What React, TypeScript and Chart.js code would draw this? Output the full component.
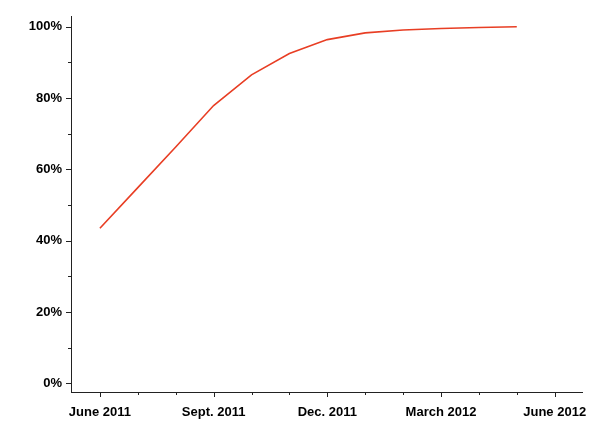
import React, { useEffect, useRef } from 'react';
import { Chart, registerables } from 'chart.js';

Chart.register(...registerables);

// Months since June 2011 (0 = June 2011)
const monthIndex = [0, 1, 2, 3, 4, 5, 6, 7, 8, 9, 10, 11];
const shareValues = [43.5, 54.9, 66.3, 77.9, 86.5, 92.5, 96.4, 98.3, 99.1, 99.5, 99.8, 100];

const xTickValues = [0, 1, 2, 3, 4, 5, 6, 7, 8, 9, 10, 11, 12];
const xMajorValues = [0, 3, 6, 9, 12];
const xMajorLabels = ['June 2011', 'Sept. 2011', 'Dec. 2011', 'March 2012', 'June 2012'];

const yTickValues = [0, 10, 20, 30, 40, 50, 60, 70, 80, 90, 100];
const yMajorValues = [0, 20, 40, 60, 80, 100];
const yMajorLabels = ['0%', '20%', '40%', '60%', '80%', '100%'];

const FONT = { family: '"Liberation Sans", Arial, Helvetica, sans-serif', size: 13, weight: 'bold' as const };
const AXIS_COLOR = '#222';

const tickPlugin = {
  id: 'customTicks',
  afterDraw(chart: any) {
    const ctx = chart.ctx;
    const xs = chart.scales.x;
    const ys = chart.scales.y;
    ctx.save();
    ctx.strokeStyle = AXIS_COLOR;
    ctx.lineWidth = 1;
    ctx.beginPath();
    for (const v of xTickValues) {
      const px = Math.round(xs.getPixelForValue(v)) + 0.5;
      const len = xMajorValues.includes(v) ? 5 : 3;
      ctx.moveTo(px, xs.top);
      ctx.lineTo(px, xs.top + len);
    }
    for (const v of yTickValues) {
      const py = Math.round(ys.getPixelForValue(v)) + 0.5;
      const len = yMajorValues.includes(v) ? 5 : 3;
      ctx.moveTo(ys.right, py);
      ctx.lineTo(ys.right - len, py);
    }
    ctx.stroke();
    ctx.restore();
  },
};

export default function App() {
  const ref = useRef<HTMLCanvasElement | null>(null);

  useEffect(() => {
    document.body.style.margin = '0';
    const canvas = ref.current;
    if (!canvas) return;
    const chart = new Chart(canvas, {
      type: 'line',
      data: {
        datasets: [
          {
            data: monthIndex.map((m, i) => ({ x: m, y: shareValues[i] })),
            borderColor: 'rgb(232, 62, 36)',
            borderWidth: 1.6,
            pointRadius: 0,
            tension: 0,
            fill: false,
          },
        ],
      },
      options: {
        animation: false,
        responsive: false,
        devicePixelRatio: 1,
        layout: { padding: { top: 15, right: 16, left: 0, bottom: 0 } },
        plugins: { legend: { display: false }, tooltip: { enabled: false } },
        scales: {
          x: {
            type: 'linear',
            min: -0.763,
            max: 12.74,
            afterBuildTicks: (scale: any) => {
              scale.ticks = xTickValues.map((v) => ({ value: v }));
            },
            afterFit: (scale: any) => {
              scale.height = 44;
            },
            grid: { display: false, drawTicks: false },
            border: { display: true, color: AXIS_COLOR, width: 1 },
            ticks: {
              autoSkip: false,
              maxRotation: 0,
              padding: 13,
              color: '#000',
              font: FONT,
              callback: (v: any) => {
                const i = xMajorValues.indexOf(Number(v));
                return i >= 0 ? xMajorLabels[i] : '';
              },
            },
          },
          y: {
            type: 'linear',
            min: -2.43,
            max: 102.8,
            afterBuildTicks: (scale: any) => {
              scale.ticks = yTickValues.map((v) => ({ value: v }));
            },
            afterFit: (scale: any) => {
              scale.width = 71;
            },
            grid: { display: false, drawTicks: false },
            border: { display: true, color: AXIS_COLOR, width: 1 },
            ticks: {
              autoSkip: false,
              padding: 9,
              color: '#000',
              font: FONT,
              callback: (v: any) => {
                const i = yMajorValues.indexOf(Number(v));
                return i >= 0 ? yMajorLabels[i] : '';
              },
            },
          },
        },
      },
      plugins: [tickPlugin],
    } as any);
    return () => chart.destroy();
  }, []);

  return <canvas ref={ref} width={600} height={436} style={{ display: 'block', width: 600, height: 436 }} />;
}
